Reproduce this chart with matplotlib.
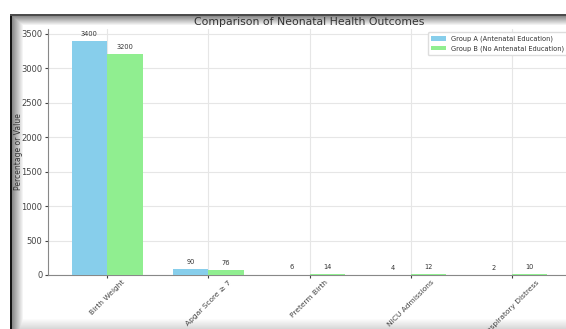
import numpy as np
import matplotlib
matplotlib.use("Agg")
import matplotlib.pyplot as plt

categories = ["Birth Weight", "Apgar Score ≥ 7", "Preterm Birth", "NICU Admissions", "Respiratory Distress"]
group_a = [3400, 90, 6, 4, 2]
group_b = [3200, 76, 14, 12, 10]
label_a = "Group A (Antenatal Education)"
label_b = "Group B (No Antenatal Education)"

W, H = 566, 329
fig = plt.figure(figsize=(W / 100, H / 100), dpi=100)

# screenshot frame / shadow background
bg = fig.add_axes([0, 0, 1, 1], zorder=0)
yy, xx = np.mgrid[0:H, 0:W]
inside = (xx >= 10) & (yy >= 14)
t = np.minimum((xx - 11) / 12.0, (yy - 15) / 10.0)
t = np.clip(t, 0, 1)
shade = 0.5 + 0.5 * t
img = np.where(inside, shade, 1.0)
img = np.where((xx >= 10) & (xx <= 11) & (yy >= 14), 0.08, img)
img = np.where((yy >= 14) & (yy <= 15) & (xx >= 10), 0.3, img)
bot = np.clip((yy - 318) / 10.0, 0, 1)
img = np.where(inside & (yy > 318), np.minimum(img, 1 - 0.15 * bot), img)
bg.imshow(np.dstack([img] * 3), extent=[0, W, H, 0], aspect="auto", interpolation="bilinear")
bg.set_xlim(0, W)
bg.set_ylim(H, 0)
bg.axis("off")

ax = fig.add_axes([48 / W, 1 - 275 / H, 523 / W, (275 - 29) / H], zorder=2)
ax.set_facecolor("white")
x = np.arange(len(categories))
w = 0.35
ba = ax.bar(x - w / 2, group_a, w, color="#87CEEB", label=label_a, zorder=3)
bb = ax.bar(x + w / 2, group_b, w, color="#90EE90", label=label_b, zorder=3)
for bars in (ba, bb):
    for r in bars:
        ax.annotate(f"{int(r.get_height())}", (r.get_x() + r.get_width() / 2, r.get_height()),
                    xytext=(0, 3), textcoords="offset points", ha="center", va="bottom",
                    fontsize=4.8, color="#333333")

ax.set_xticks(x)
ax.set_xticklabels(categories, rotation=45, ha="center", fontsize=5.4, color="#333333")
ax.tick_params(axis="y", labelsize=6, colors="#444444", length=2, pad=2)
ax.tick_params(axis="x", length=2, colors="#444444", pad=1)
ax.set_ylim(0, 3570)
ax.set_yticks([0, 500, 1000, 1500, 2000, 2500, 3000, 3500])
ax.grid(True, color="#e6e6e6", linewidth=0.8, zorder=0)
ax.set_axisbelow(True)
for s in ["top", "right"]:
    ax.spines[s].set_visible(False)
for s in ["left", "bottom"]:
    ax.spines[s].set_color("#888888")
    ax.spines[s].set_linewidth(0.8)
ax.set_ylabel("Percentage or Value", fontsize=5.5, color="#333333")
ax.yaxis.set_label_coords(-25 / 523, 0.5)
ax.set_title("Comparison of Neonatal Health Outcomes", fontsize=7.8, color="#333333", pad=3)
ax.legend(loc="upper right", fontsize=4.8, frameon=True, framealpha=1, edgecolor="#dddddd",
          handlelength=2.2, borderpad=0.5, labelcolor="#333333")

fig.savefig("out.png", dpi=100)
